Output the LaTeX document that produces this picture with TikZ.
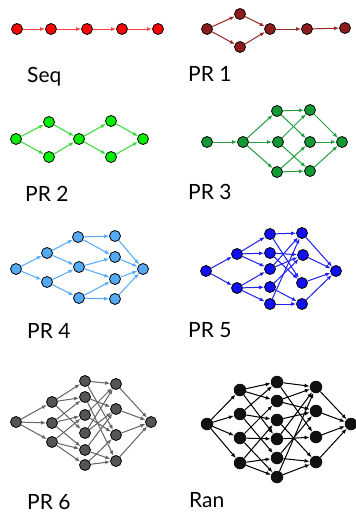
\documentclass[tikz,border=0pt]{standalone}
\usepackage{fontspec}
\setmainfont{Lato}
\usetikzlibrary{arrows.meta}
\definecolor{nseq}{HTML}{FF0000}\definecolor{eseq}{HTML}{FF4444}
\definecolor{npra}{HTML}{8E1C1C}\definecolor{epra}{HTML}{9A2A2A}
\definecolor{nprb}{HTML}{00EE00}\definecolor{eprb}{HTML}{33DD33}
\definecolor{nprc}{HTML}{119933}\definecolor{eprc}{HTML}{22A040}
\definecolor{nprd}{HTML}{55AAF5}\definecolor{eprd}{HTML}{55AAFF}
\definecolor{npre}{HTML}{1010F0}\definecolor{epre}{HTML}{2222EE}
\definecolor{nprf}{HTML}{555555}\definecolor{eprf}{HTML}{666666}
\definecolor{nran}{HTML}{111111}\definecolor{eran}{HTML}{000000}
\begin{document}
\begin{tikzpicture}[x=1pt,y=-1pt,
  vtx/.style={circle,draw=black,line width=0.8pt,minimum size=11pt,inner sep=0pt},
  rvtx/.style={circle,fill=nran,draw=none,minimum size=12.5pt,inner sep=0pt},
  edge/.style={-{Latex[length=5pt,width=4pt]},line width=1pt},
  lbl/.style={anchor=base west,font=\fontsize{21}{21}\selectfont,inner sep=0pt}]
\useasboundingbox (0,0) rectangle (356,514);
% ---------- Seq
\foreach \n/\x in {1/17,2/51,3/87,4/122,5/158}
  \node[vtx,fill=nseq] (s\n) at (\x,29) {};
\foreach \a/\b in {s1/s2,s2/s3,s3/s4,s4/s5}
  \draw[edge,draw=eseq,fill=eseq] (\a)--(\b);
\node[lbl] (lseq) at (27,82) {Seq};
% ---------- PR 1
\node[vtx,fill=npra] (a1) at (207,29) {};
\node[vtx,fill=npra] (a2) at (240,14) {};
\node[vtx,fill=npra] (a3) at (240,47) {};
\node[vtx,fill=npra] (a4) at (270,29) {};
\node[vtx,fill=npra] (a5) at (307,29) {};
\node[vtx,fill=npra] (a6) at (345,28) {};
\foreach \a/\b in {a1/a2,a1/a3,a2/a4,a3/a4,a4/a5,a5/a6}
  \draw[edge,draw=epra,fill=epra] (\a)--(\b);
\node[lbl] (lpra) at (188,81) {PR 1};
% ---------- PR 2
\node[vtx,fill=nprb] (b1) at (16,139) {};
\node[vtx,fill=nprb] (b2) at (49,122) {};
\node[vtx,fill=nprb] (b3) at (49,157) {};
\node[vtx,fill=nprb] (b4) at (79,139) {};
\node[vtx,fill=nprb] (b5) at (111,121) {};
\node[vtx,fill=nprb] (b6) at (111,157) {};
\node[vtx,fill=nprb] (b7) at (143,139) {};
\foreach \a/\b in {b1/b2,b1/b3,b2/b4,b3/b4,b4/b5,b4/b6,b5/b7,b6/b7}
  \draw[edge,draw=eprb,fill=eprb] (\a)--(\b);
\node[lbl] (lprb) at (25,201) {PR 2};
% ---------- PR 3
\node[vtx,fill=nprc] (c1) at (207,142) {};
\node[vtx,fill=nprc] (c2) at (243,142) {};
\node[vtx,fill=nprc] (c3a) at (277,111) {};
\node[vtx,fill=nprc] (c3b) at (278,142) {};
\node[vtx,fill=nprc] (c3c) at (277,172) {};
\node[vtx,fill=nprc] (c4a) at (310,110) {};
\node[vtx,fill=nprc] (c4b) at (310,142) {};
\node[vtx,fill=nprc] (c4c) at (310,171) {};
\node[vtx,fill=nprc] (c5) at (342,142) {};
\foreach \a/\b in {c1/c2,c2/c3a,c2/c3b,c2/c3c,c3a/c4a,c3a/c4b,c3b/c4a,c3b/c4c,
  c3c/c4b,c3c/c4c,c4a/c5,c4b/c5,c4c/c5}
  \draw[edge,draw=eprc,fill=eprc] (\a)--(\b);
\node[lbl] (lprc) at (188,199) {PR 3};
% ---------- PR 4
\node[vtx,fill=nprd] (d1) at (16,269) {};
\node[vtx,fill=nprd] (d2a) at (47,253) {};
\node[vtx,fill=nprd] (d2b) at (47,282) {};
\node[vtx,fill=nprd] (d3a) at (78,237) {};
\node[vtx,fill=nprd] (d3b) at (79,267) {};
\node[vtx,fill=nprd] (d3c) at (79,298) {};
\node[vtx,fill=nprd] (d4a) at (115,236) {};
\node[vtx,fill=nprd] (d4b) at (115,257) {};
\node[vtx,fill=nprd] (d4c) at (115,279) {};
\node[vtx,fill=nprd] (d4d) at (115,299) {};
\node[vtx,fill=nprd] (d5) at (143,269) {};
\foreach \a/\b in {d1/d2a,d1/d2b,d2a/d3a,d2a/d3b,d2b/d3b,d2b/d3c,d3a/d4a,d3a/d4b,
  d3b/d4b,d3b/d4c,d3c/d4c,d3c/d4d,d4a/d5,d4b/d5,d4c/d5,d4d/d5}
  \draw[edge,draw=eprd,fill=eprd] (\a)--(\b);
\node[lbl] (lprd) at (27,338) {PR 4};
% ---------- PR 5
\node[vtx,fill=npre] (e1) at (206,271) {};
\node[vtx,fill=npre] (e2a) at (237,254) {};
\node[vtx,fill=npre] (e2b) at (237,288) {};
\node[vtx,fill=npre] (e3a) at (270,234) {};
\node[vtx,fill=npre] (e3b) at (270,253) {};
\node[vtx,fill=npre] (e3c) at (270,269) {};
\node[vtx,fill=npre] (e3d) at (270,287) {};
\node[vtx,fill=npre] (e3e) at (270,304) {};
\node[vtx,fill=npre] (e4a) at (302,233) {};
\node[vtx,fill=npre] (e4b) at (303,255) {};
\node[vtx,fill=npre] (e4c) at (302,283) {};
\node[vtx,fill=npre] (e4d) at (302,304) {};
\node[vtx,fill=npre] (e5) at (336,271) {};
\foreach \a/\b in {e1/e2a,e1/e2b,e2a/e3a,e2a/e3b,e2a/e3c,e2b/e3c,e2b/e3d,e2b/e3e,
  e3a/e4a,e3a/e4c,e3b/e4b,e3b/e4c,e3c/e4a,e3c/e4b,e3d/e4b,e3d/e4d,e3e/e4a,e3e/e4d,
  e4a/e5,e4b/e5,e4c/e5,e4d/e5}
  \draw[edge,draw=epre,fill=epre] (\a)--(\b);
\node[lbl] (lpre) at (188,337) {PR 5};
% ---------- PR 6
\node[vtx,fill=nprf] (f1) at (16,422) {};
\node[vtx,fill=nprf] (f2a) at (52,402) {};
\node[vtx,fill=nprf] (f2b) at (52,423) {};
\node[vtx,fill=nprf] (f2c) at (52,442) {};
\foreach \n/\y in {a/381,b/397,c/415,d/433,e/450,f/465}
  \node[vtx,fill=nprf] (f3\n) at (85,\y) {};
\foreach \n/\y in {a/384,b/409,c/435,d/461}
  \node[vtx,fill=nprf] (f4\n) at (116,\y) {};
\node[vtx,fill=nprf] (f5) at (151,422) {};
\foreach \a/\b in {f1/f2a,f1/f2b,f1/f2c,
  f2a/f3a,f2a/f3b,f2a/f3d,f2b/f3b,f2b/f3c,f2b/f3e,f2c/f3c,f2c/f3e,f2c/f3f,
  f3a/f4a,f3a/f4c,f3b/f4b,f3b/f4d,f3c/f4a,f3c/f4c,f3d/f4a,f3d/f4b,f3e/f4b,f3e/f4d,f3f/f4c,f3f/f4d,
  f4a/f5,f4b/f5,f4c/f5,f4d/f5}
  \draw[edge,draw=eprf,fill=eprf] (\a)--(\b);
\node[lbl] (lprf) at (27,509) {PR 6};
% ---------- Ran
\node[rvtx] (g1) at (207,424) {};
\foreach \n/\y in {a/390,b/414,c/438,d/463}
  \node[rvtx] (g2\n) at (240,\y) {};
\foreach \n/\y in {a/382,b/401,c/420,d/439,e/458,f/477}
  \node[rvtx] (g3\n) at (277,\y) {};
\foreach \n/\y in {a/387,b/411,c/437,d/462}
  \node[rvtx] (g4\n) at (316,\y) {};
\node[rvtx] (g5) at (351,424) {};
\foreach \a/\b in {g1/g2a,g1/g2b,g1/g2c,g1/g2d,
  g2a/g3a,g2a/g3b,g2a/g3d,g2b/g3a,g2b/g3c,g2b/g3e,g2c/g3b,g2c/g3d,g2c/g3f,g2d/g3c,g2d/g3e,g2d/g3f,
  g3a/g4a,g3a/g4c,g3b/g4a,g3b/g4b,g3c/g4b,g3c/g4d,g3d/g4a,g3d/g4c,g3e/g4b,g3e/g4d,g3f/g4a,g3f/g4d,
  g4a/g5,g4b/g5,g4c/g5,g4d/g5}
  \draw[edge,draw=eran,fill=eran] (\a)--(\b);
\node[lbl] (lran) at (189,507) {Ran};
\end{tikzpicture}
\end{document}
